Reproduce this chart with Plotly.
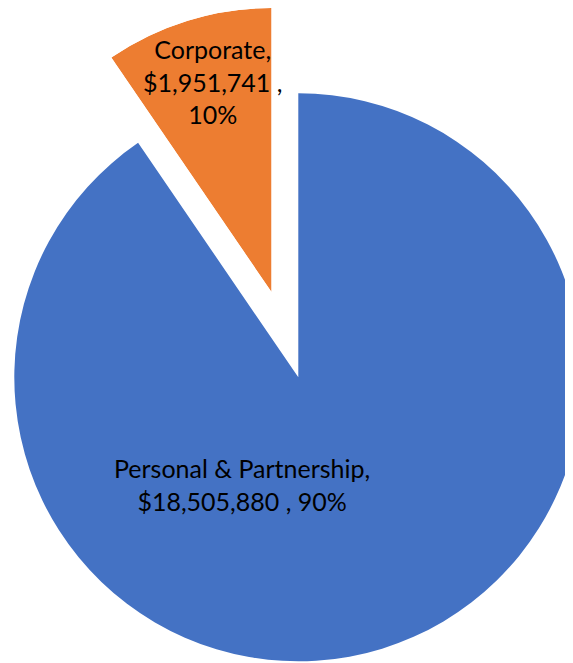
import math
import plotly.graph_objects as go

# ---- data ----
categories = ["Personal & Partnership", "Corporate"]
amounts = [18505880, 1951741]
slice_colors = ["#4472C4", "#ED7D31"]

total = sum(amounts)
pcts = [round(100 * a / total) for a in amounts]
label_text = [
    f"{categories[0]},<br>${amounts[0]:,} , {pcts[0]}%",
    f"{categories[1]},<br>${amounts[1]:,} ,<br>{pcts[1]}%",
]

# ---- geometry (figure pixels) ----
W, H = 600, 663
R = 284
center_main = (290.3, 369.3)   # centre of the main pie
vertex_pulled = (263.5, 284)   # tip of the exploded slice

# exploded slice: angular span from the data, starting at 12 o'clock going CCW
arc = 360.0 * amounts[1] / total
sector = [90.0, 90.0 + arc]


def sector_bbox(s):
    a0, a1 = s
    xs = [0.0, math.cos(math.radians(a0)), math.cos(math.radians(a1))]
    ys = [0.0, math.sin(math.radians(a0)), math.sin(math.radians(a1))]
    for a in (0, 90, 180, 270, 360, 450):
        if a0 <= a <= a1:
            xs.append(math.cos(math.radians(a)))
            ys.append(math.sin(math.radians(a)))
    return min(xs), min(ys), max(xs), max(ys)


def clamp(v):
    return min(1.0, max(0.0, v))


bx0, by0, bx1, by1 = sector_bbox(sector)
polar_domain = dict(
    x=[clamp((vertex_pulled[0] + R * bx0) / W), clamp((vertex_pulled[0] + R * bx1) / W)],
    y=[clamp(1 - (vertex_pulled[1] - R * by0) / H), clamp(1 - (vertex_pulled[1] - R * by1) / H)],
)

pie_domain = dict(
    x=[clamp((center_main[0] - R) / W), clamp((center_main[0] + R) / W)],
    y=[clamp(1 - (center_main[1] + R) / H), clamp(1 - (center_main[1] - R) / H)],
)

transparent = "rgba(0,0,0,0)"
fig = go.Figure()
fig.add_trace(go.Pie(
    labels=categories, values=amounts, sort=False, direction="clockwise",
    rotation=0, textinfo="none", hoverinfo="skip", showlegend=False,
    marker=dict(colors=[slice_colors[0], transparent], line=dict(width=0)),
    domain=pie_domain,
))
fig.add_trace(go.Barpolar(
    r=[amounts[1]], theta=[90.0 + arc / 2], width=[arc], base=[0],
    marker=dict(color=slice_colors[1], line=dict(width=0)),
    hoverinfo="skip", showlegend=False, name=categories[1],
))

label_pos = [(233.5, 476), (204, 73)]
for txt, (px, py) in zip(label_text, label_pos):
    fig.add_annotation(
        text=txt, x=px / W, y=1 - py / H, xref="paper", yref="paper",
        xanchor="center", yanchor="middle", showarrow=False, align="center",
        font=dict(family="Lato", size=25, color="#000000"),
    )

fig.update_layout(
    width=W, height=H, margin=dict(l=0, r=0, t=0, b=0),
    paper_bgcolor="white", plot_bgcolor="white", hovermode=False,
    polar=dict(
        domain=polar_domain, sector=sector, bgcolor=transparent,
        radialaxis=dict(visible=False, range=[0, amounts[1]]),
        angularaxis=dict(visible=False),
    ),
)
fig.write_html("out.html")
